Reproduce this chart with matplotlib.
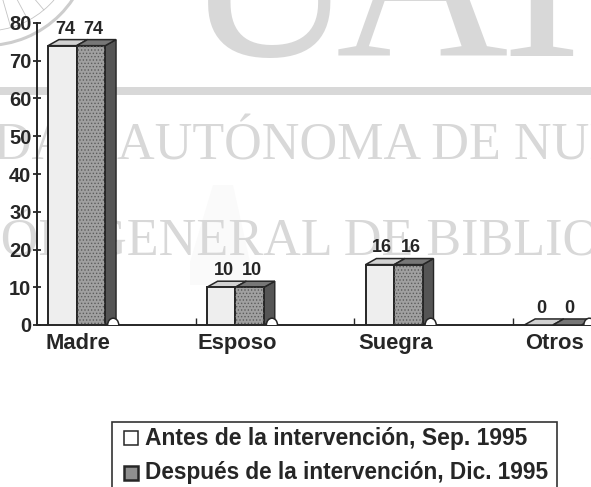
import numpy as np
import matplotlib
matplotlib.use('Agg')
import matplotlib.pyplot as plt
from matplotlib.patches import Polygon, Rectangle, Arc, Ellipse

categorias = ['Madre', 'Esposo', 'Suegra', 'Otros']
antes = [74, 10, 16, 0]
despues = [74, 10, 16, 0]
marcas_y = [0, 10, 20, 30, 40, 50, 60, 70, 80]
leyenda = ['Antes de la intervención, Sep. 1995', 'Después de la intervención, Dic. 1995']

W, H = 591, 487
GRIS = '#d8d8d8'
OSCURO = '#262626'
FUENTE = ['Liberation Sans', 'DejaVu Sans']
SERIF = 'Liberation Serif'

plt.rcParams['hatch.linewidth'] = 0.6

fig = plt.figure(figsize=(W / 100, H / 100), dpi=100)
fondo = fig.add_axes([0, 0, 1, 1], zorder=0)
fondo.axis('off')

# marca de agua del fondo
fondo.add_patch(Polygon([(213, 185), (233, 185), (250, 262), (250, 285), (190, 285), (190, 262)],
                        fc='#fafafa', lw=0, zorder=0))
for letra, xl in zip('UAI', [183, 336, 501]):
    fondo.text(xl, 56, letra, fontsize=172, family=SERIF, color=GRIS, ha='left', va='baseline')
fondo.axhspan(87, 95, color=GRIS, lw=0)
fondo.text(299, 160, 'UNIVERSIDAD AUTÓNOMA DE NUEVO LEÓN', fontsize=37.5, family=SERIF,
           color=GRIS, ha='center', va='baseline')
fondo.text(279, 255, 'DIRECCIÓN GENERAL DE BIBLIOTECAS', fontsize=37.5, family=SERIF,
           color=GRIS, ha='center', va='baseline')

# escudo de la esquina
cx, cy = -14, -59
fondo.add_patch(Arc((cx, cy), 209, 209, color='#cdcdcd', lw=2.2))
fondo.add_patch(Arc((cx, cy), 180, 180, color='#c4c4c4', lw=0.6))
for ang in np.radians([38, 50, 62, 74]):
    fondo.plot([cx + 90 * np.cos(ang), cx + 60 * np.cos(ang)], [cy + 90 * np.sin(ang), cy + 60 * np.sin(ang)],
               color='#c4c4c4', lw=0.6)
fondo.set_xlim(0, W)
fondo.set_ylim(H, 0)

ax = fig.add_axes([37 / W, 1 - 325 / H, (W - 37) / W, (325 - 23) / H], zorder=1)
ax.patch.set_alpha(0)
ax.set_xlim(-0.25, 3.24)
ax.set_ylim(0, 80)
ax.spines['top'].set_visible(False)
ax.spines['right'].set_visible(False)
for s in ax.spines.values():
    s.set_linewidth(1.4)
    s.set_color(OSCURO)
ax.set_yticks(marcas_y)
ax.set_xticks([0.75, 1.75, 2.75])
ax.set_xticklabels([])
ax.tick_params(axis='y', length=6, width=1.3, color=OSCURO, direction='inout', pad=1)
ax.tick_params(axis='x', length=5, width=1.0, color=OSCURO, direction='in')
for t in ax.get_yticklabels():
    t.set_fontsize(14.5)
    t.set_fontweight('bold')
    t.set_family(FUENTE)
    t.set_color(OSCURO)

ancho = 0.18
dx = 0.068
dy = 1.6


def barra(x, v, cara, arriba, lado, punteada):
    # barra con efecto 3d: lado, tapa y frente
    ax.add_patch(Polygon([(x + ancho, 0), (x + ancho + dx, dy), (x + ancho + dx, v + dy), (x + ancho, v)],
                         fc=lado, ec=OSCURO, lw=1, clip_on=False, zorder=3))
    ax.add_patch(Polygon([(x, v), (x + dx, v + dy), (x + ancho + dx, v + dy), (x + ancho, v)],
                         fc=arriba, ec=OSCURO, lw=1.1, clip_on=False, zorder=3))
    if v > 0:
        ax.add_patch(Rectangle((x, 0), ancho, v, fc=cara, ec=OSCURO, lw=1.4, zorder=4))
        if punteada:
            ax.add_patch(Rectangle((x, 0), ancho, v, fc='none', ec='#5c5c5c', lw=0, hatch='.....', zorder=5))


for i, cat in enumerate(categorias):
    barra(i - ancho, antes[i], '#eeeeee', '#d2d2d2', '#7a7a7a', False)
    barra(i, despues[i], '#a0a0a0', '#777777', '#555555', True)
    ax.add_patch(Ellipse((i + ancho + 0.05, 0), 0.07, 3.6, fc='white', ec=OSCURO, lw=1.1, zorder=6))
    ax.text(i - ancho / 2 + 0.015, antes[i] + dy + 2.8, str(antes[i]), fontsize=13, fontweight='bold',
            family=FUENTE, color=OSCURO, ha='center', va='center')
    ax.text(i + ancho / 2 + 0.015, despues[i] + dy + 2.8, str(despues[i]), fontsize=13, fontweight='bold',
            family=FUENTE, color=OSCURO, ha='center', va='center')
    ax.text(i + 0.01, -5, cat, fontsize=15.8, fontweight='bold', family=FUENTE, color=OSCURO,
            ha='center', va='center', clip_on=False)

# leyenda
fondo.add_patch(Rectangle((112, 422), 445, 70, fc='white', ec='#333333', lw=1.2, zorder=2))
fondo.add_patch(Rectangle((124, 431), 14, 14, fc='white', ec=OSCURO, lw=1.1, zorder=3))
fondo.add_patch(Rectangle((124, 466), 14, 14, fc='#8f8f8f', ec=OSCURO, lw=1.8, zorder=3))
fondo.text(145, 438, leyenda[0], fontsize=16.5, fontweight='bold', family=FUENTE, color=OSCURO,
           va='center', zorder=3)
fondo.text(145, 473, leyenda[1], fontsize=16.3, fontweight='bold', family=FUENTE, color=OSCURO,
           va='center', zorder=3)

fig.savefig('out.png', dpi=100)
